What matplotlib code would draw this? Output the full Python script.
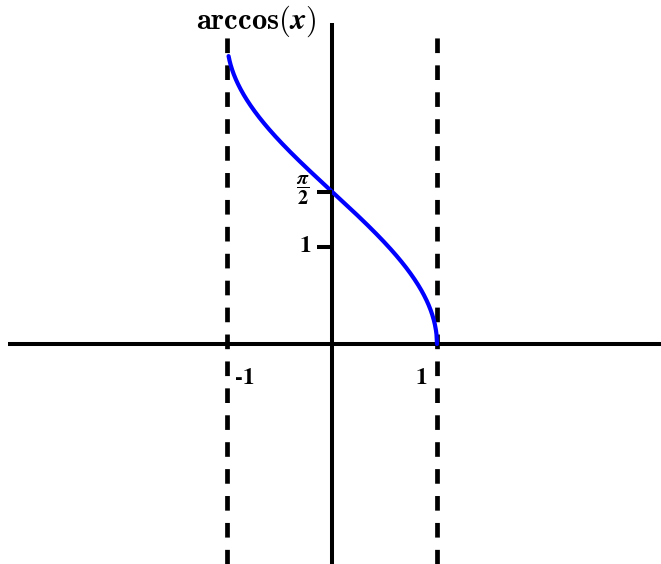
import numpy as np
import matplotlib.pyplot as plt

plt.rcParams['mathtext.fontset'] = 'cm'

# curve samples and labels
xs = np.linspace(-0.985, 1.0, 400)
ys = np.arccos(xs)
asymptotes = [-1, 1]
ytick_vals = [1, np.pi / 2]
ytick_labels = ['1', r'$\dfrac{\boldsymbol{\pi}}{\mathbf{2}}$']
xtick_vals = [-1, 1]
xtick_labels = ['-1', '1']

W, H = 661, 564
ox, oy = 332, 344      # origin in pixels
sx, sy = 105.0, 97.0   # pixels per unit

fig = plt.figure(figsize=(W / 100, H / 100), dpi=100)
ax = fig.add_axes([0, 0, 1, 1])
ax.set_xlim(-ox / sx, (W - ox) / sx)
ax.set_ylim(-(H - oy) / sy, oy / sy)
ax.axis('off')

# axes lines
ax.plot([(8 - ox) / sx, (W - ox) / sx], [0, 0], color='black', lw=2.9, solid_capstyle='butt')
ax.plot([0, 0], [-(H - oy) / sy, (oy - 23) / sy], color='black', lw=2.9, solid_capstyle='butt')

# dashed verticals at x = -1 and 1
for a in asymptotes:
    ax.plot([a, a], [-(H - oy) / sy, (oy - 30) / sy], color='black', lw=3.4,
            linestyle=(0, (3.1, 2.6)), solid_capstyle='butt')

ax.plot(xs, ys, color='blue', lw=3.0, solid_capstyle='round')

lab_kw = dict(family='STIXGeneral', weight='bold', fontsize=17)

# y ticks
for v in ytick_vals:
    ax.plot([-15 / sx, 0], [v, v], color='black', lw=2.9, solid_capstyle='butt')
ax.text(-21 / sx, ytick_vals[0], ytick_labels[0], ha='right', va='center', **lab_kw)
ax.text(-22 / sx, ytick_vals[1] + 1 / sy, ytick_labels[1], ha='right', va='center',
        fontsize=14.5, math_fontfamily='stix')

# x tick labels
ax.text(xtick_vals[0] + 8 / sx, -35 / sy, xtick_labels[0], ha='left', va='center', **lab_kw)
ax.text(xtick_vals[1] - 10 / sx, -35 / sy, xtick_labels[1], ha='right', va='center', **lab_kw)

ax.text(-16 / sx, (oy - 21) / sy, r'$\mathbf{arccos(}\boldsymbol{x}\mathbf{)}$',
        ha='right', va='center', fontsize=22)

fig.savefig('out.png', dpi=100)
